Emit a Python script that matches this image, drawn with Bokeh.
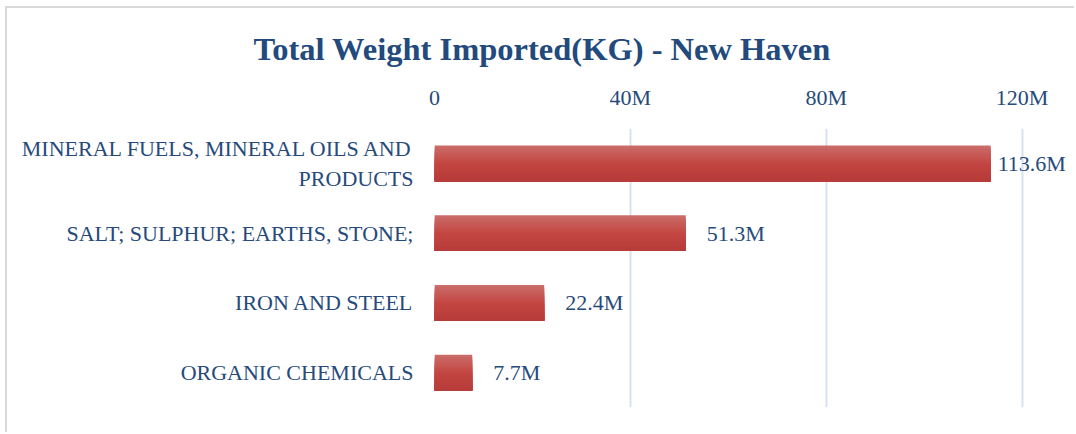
from bokeh.plotting import figure
from bokeh.models import Range1d, FactorRange, FixedTicker, ColumnDataSource, Title
from bokeh.core.properties import value
from bokeh.transform import dodge
from bokeh.embed import file_html
from bokeh.resources import INLINE

categories = ["MINERAL FUELS, MINERAL OILS AND\nPRODUCTS", "SALT; SULPHUR; EARTHS, STONE;",
              "IRON AND STEEL", "ORGANIC CHEMICALS"]
values = [113.6e6, 51.3e6, 22.4e6, 7.7e6]
value_labels = ["113.6M", "51.3M", "22.4M", "7.7M"]
tick_values = [0, 40e6, 80e6, 120e6]
tick_labels = ["0", "40M", "80M", "120M"]

FONT = "Liberation Serif"
TXT = "#264A7C"

frame_left, frame_right = 427, 1069   # canvas px
px_per_unit = (1021.5 - 434) / 120e6
x_end = (frame_right - frame_left) / px_per_unit

p = figure(width=1069, height=426, output_backend="svg", toolbar_location=None,
           y_range=FactorRange(*reversed(categories), range_padding=0),
           x_range=Range1d(0, x_end), x_axis_location="above",
           min_border_left=frame_left, min_border_right=0, min_border_top=120,
           min_border_bottom=27,
           styles={"margin-left": "5px", "margin-top": "6px",
                   "border-left": "2px solid #D9D9D9", "border-top": "2px solid #D9D9D9"})
p.outline_line_color = None
p.background_fill_color = "white"
p.border_fill_color = "white"

src = ColumnDataSource(dict(cat=categories, val=values, lab=value_labels,
                            off=[7, 21, 21, 21]))

# gradient-like bars: strips drawn top to bottom, each reaching the bar bottom
bar_h = 0.516
n = 18
h = bar_h / n
top = (202, 110, 106)
mid = (196, 70, 66)
bot = (182, 59, 56)
for i in range(n):
    t = (i + 0.5) / n  # 0 at top, 1 at bottom
    if t < 0.5:
        a, b, f = top, mid, t / 0.5
    else:
        a, b, f = mid, bot, (t - 0.5) / 0.5
    c = tuple(int(round(a[k] + (b[k] - a[k]) * f)) for k in range(3))
    col = "#%02x%02x%02x" % c
    top_edge = bar_h / 2 - i * h
    bottom_edge = -bar_h / 2
    center = (top_edge + bottom_edge) / 2
    p.hbar(y=dodge("cat", center, range=p.y_range), right="val", left=0,
           height=top_edge - bottom_edge, source=src, fill_color=col, line_color=None)

p.text(x="val", y="cat", text="lab", source=src, x_offset="off",
       text_baseline="middle", text_align="left", text_font=value(FONT),
       text_font_size="22px", text_color=TXT)

p.xgrid.ticker = FixedTicker(ticks=tick_values)
p.xgrid.grid_line_color = "#D6E2F3"
p.xgrid.grid_line_width = 2
p.ygrid.grid_line_color = None

xa = p.xaxis[0]
xa.ticker = FixedTicker(ticks=tick_values)
xa.major_label_overrides = {int(v): l for v, l in zip(tick_values, tick_labels)}
xa.axis_line_color = None
xa.major_tick_line_color = None
xa.minor_tick_line_color = None
xa.major_label_standoff = 13
xa.major_label_text_font = FONT
xa.major_label_text_font_size = "22px"
xa.major_label_text_color = TXT

ya = p.yaxis[0]
ya.axis_line_color = None
ya.major_tick_line_color = None
ya.major_label_standoff = 15
ya.major_label_text_font = FONT
ya.major_label_text_font_size = "22px"
ya.major_label_text_color = TXT

p.title = Title(text="Total Weight Imported(KG) - New Haven", align="left",
                offset=-181, text_font=FONT, text_font_size="32.5px",
                text_font_style="bold", text_color="#234A7D", standoff=30)

open("out.html", "w").write(file_html(p, INLINE))
